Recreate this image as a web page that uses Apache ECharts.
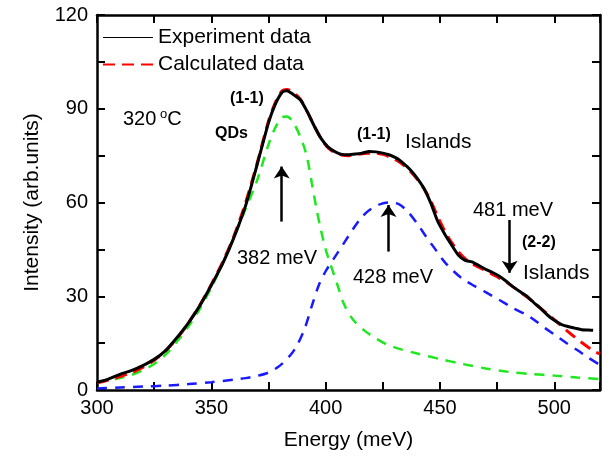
<!DOCTYPE html>
<html><head><meta charset="utf-8">
<script src="https://cdn.jsdelivr.net/npm/echarts@6/dist/echarts.min.js"></script>
<style>html,body{margin:0;padding:0;background:#fff}#c{width:610px;height:458px}</style>
</head><body><div id="c"></div>
<script>
// ---- data ----
const expEnergy = [300,305,310,315,320,325,330,335,340,345,350,355,360,365,370,375,378,381,383,386,389,392,395,398,401,404,407,410,413,416,419,422,425,428,431,434,437,440,443,446,449,452,455,458,461,464,467,470,473,476,479,482,485,488,491,494,497,500,503,506,509,512,515,517];
const expIntensity = [2.5,3.5,5.0,6.2,7.8,9.8,12.6,16.8,21.5,27,33.5,40.5,49,59,72,85.5,91.5,95.3,95.8,94.5,92.8,89,84.5,80.5,77.8,76.3,75.4,75.3,75.5,75.8,76.3,76.2,75.8,75.2,74.2,72.5,70.5,67.8,64.5,59.8,54,50,46.5,43.2,41.5,41,39.8,38.6,37.6,36.4,34.8,33,31.5,30,28,26.1,24,22.3,21,20.3,19.8,19.3,19.2,19.1];

const calcEnergy = [300,305,310,315,320,325,330,335,340,345,350,355,360,365,370,375,378,381,383,386,389,392,395,398,401,404,407,410,413,416,419,422,425,428,431,434,437,440,443,446,449,452,455,458,461,464,467,470,473,476,479,482,485,488,491,494,497,500,503,506,509,512,515,518,520];
const calcIntensity = [2.3,3.2,4.3,5.5,7.2,9.5,12.6,16.5,21.5,27.2,33.8,41,49.5,60,72.5,86,92,95.8,96.2,95.2,93,89,84.5,80.5,77.5,76,75.2,75,75.3,75.6,75.8,75.8,75.4,74.6,73.5,72,70,67.5,64.5,60.5,55.5,51,47.3,44.3,42,40.5,39.3,38.2,37,35.8,34.5,33,31.4,29.8,28,26.2,24.3,22.5,20.6,18.7,16.9,15.2,13.6,12.2,11.6];

const qdEnergy = [300,305,310,315,320,325,330,335,340,345,350,355,360,365,370,375,378,381,383,386,390,392,394,396,398,400,402,405,408,412,417,422,427,433,440,450,460,470,480,490,500,510,520];
const qdIntensity = [2.4,3.0,3.8,4.8,6.3,8.3,11.3,15.5,20.3,26,32.8,40.5,49,58,67,78.5,84,87.3,87.5,85.5,79,74,66,58,51,45,40.5,34,27.5,22.5,19,16.5,14.5,13,11.7,9.9,8.3,6.9,5.8,5.1,4.6,4.0,3.5];

const islEnergy = [300,310,320,330,340,350,360,365,370,375,380,385,388,391,394,397,400,404,408,412,416,420,424,428,432,436,440,444,448,452,456,460,465,470,476,482,488,492,496,500,505,510,515,520];
const islIntensity = [0.5,0.8,1.1,1.4,1.9,2.5,3.3,3.8,4.5,5.6,7.8,11.5,15,20,27,33.5,38,42.5,47,51.5,55.5,58,59.5,60,59.5,57,53.3,49,45,41,38,35.5,33.3,31.3,28.8,26.2,24,22,19.8,17.8,15.2,12.8,10.3,8];

const xTickValues = [300,350,400,450,500];
const yTickValues = [0,30,60,90,120];
const seriesNames = ['Experiment data','Calculated data'];

// peak arrows: energy, tail intensity, tip intensity
const arrowEnergy = [380.8, 427.5, 480.5];
const arrowFrom = [53.9, 44.3, 54.4];
const arrowTo = [71.5, 59.2, 37.5];

const FONT = 'Liberation Sans, Arial, sans-serif';
const pairs = (xs, ys) => xs.map((x, i) => [x, ys[i]]);

const chart = echarts.init(document.getElementById('c'), null, {renderer: 'canvas'});

function axis(extra) {
  return Object.assign({
    type: 'value',
    axisLine: {show: true, onZero: false, lineStyle: {color: '#000', width: 2.5}},
    axisTick: {show: true, inside: true, length: 8, lineStyle: {color: '#000', width: 2}},
    minorTick: {show: true, splitNumber: 2, length: 8, lineStyle: {color: '#000', width: 2}},
    splitLine: {show: false},
    minorSplitLine: {show: false}
  }, extra);
}

const option = {
  animation: false,
  backgroundColor: '#fff',
  grid: {left: 97, right: 10, top: 15, bottom: 68, containLabel: false},
  legend: {
    data: [
      {name: seriesNames[0], lineStyle: {width: 1.2}},
      {name: seriesNames[1]}
    ],
    orient: 'vertical', left: 102, top: 27, padding: 0,
    itemWidth: 50, itemHeight: 14, itemGap: 6,
    itemStyle: {opacity: 0},
    textStyle: {fontSize: 21, color: '#000', fontFamily: FONT}
  },
  xAxis: [
    axis({
      min: 300, max: 520, interval: 50, position: 'bottom',
      name: 'Energy (meV)', nameLocation: 'middle', nameGap: 40,
      nameTextStyle: {fontSize: 21, color: '#000', fontFamily: FONT},
      axisLabel: {show: true, margin: 8, fontSize: 20, color: '#000', fontFamily: FONT,
        formatter: v => xTickValues.includes(v) ? String(v) : ''}
    }),
    axis({min: 300, max: 520, interval: 50, position: 'top', axisLabel: {show: false}})
  ],
  yAxis: [
    axis({
      min: 0, max: 120, interval: 30, position: 'left',
      name: 'Intensity (arb.units)', nameLocation: 'middle', nameGap: 54, nameRotate: 90,
      nameTextStyle: {fontSize: 21, color: '#000', fontFamily: FONT},
      axisLabel: {show: true, margin: 9, fontSize: 20, color: '#000', fontFamily: FONT,
        formatter: v => yTickValues.includes(v) ? String(v) : ''}
    }),
    axis({min: 0, max: 120, interval: 30, position: 'right', axisLabel: {show: false}})
  ],
  series: [
    {
      name: 'QDs', type: 'line', data: pairs(qdEnergy, qdIntensity), symbol: 'none', smooth: 0.3,
      itemStyle: {color: '#1ee81e'},
      lineStyle: {color: '#1ee81e', width: 2.5, type: [10, 8]}, z: 2
    },
    {
      name: 'Islands', type: 'line', data: pairs(islEnergy, islIntensity), symbol: 'none', smooth: 0.3,
      itemStyle: {color: '#1a1aff'},
      lineStyle: {color: '#1a1aff', width: 2.5, type: [10, 8]}, z: 2
    },
    {
      name: seriesNames[1], type: 'line', data: pairs(calcEnergy, calcIntensity), symbol: 'none', smooth: 0.3,
      itemStyle: {color: '#ff0000'},
      lineStyle: {color: '#ff0000', width: 3, type: [12, 7]}, z: 3
    },
    {
      name: seriesNames[0], type: 'line', data: pairs(expEnergy, expIntensity), symbol: 'none', smooth: 0.2,
      itemStyle: {color: '#000'},
      lineStyle: {color: '#000', width: 3}, z: 4,
      markLine: {
        silent: true, symbol: ['none', 'arrow'], symbolSize: 12,
        label: {show: false},
        lineStyle: {color: '#000', width: 2.5, type: 'solid'},
        itemStyle: {color: '#000'},
        data: arrowEnergy.map((e, i) => [{coord: [e, arrowFrom[i]]}, {coord: [e, arrowTo[i]]}])
      }
    }
  ]
};
chart.setOption(option);

function txt(x, y, text, size, bold) {
  return {
    type: 'text', x: x, y: y, z: 10,
    style: {text: text, fontSize: size, fontWeight: bold ? 'bold' : 'normal', fontFamily: FONT,
      fill: '#000', align: 'left', verticalAlign: 'middle'}
  };
}

chart.setOption({
  graphic: [
    {
      type: 'text', x: 123, y: 119, z: 10,
      style: {
        text: '{n|320}{s| o}{n|C}', fill: '#000', align: 'left', verticalAlign: 'middle',
        fontFamily: FONT,
        rich: {
          n: {fontSize: 20, fontFamily: FONT, fill: '#000', lineHeight: 22},
          s: {fontSize: 13, fontFamily: FONT, fill: '#000', verticalAlign: 'top', lineHeight: 13}
        }
      }
    },
    txt(230, 99, '(1-1)', 16, true),
    txt(215, 134, 'QDs', 16, true),
    txt(357, 135, '(1-1)', 16, true),
    txt(405, 142, 'Islands', 21, false),
    txt(237, 258, '382 meV', 20, false),
    txt(353, 277, '428 meV', 20, false),
    txt(473, 210, '481 meV', 20, false),
    txt(522, 243, '(2-2)', 16, true),
    txt(523, 273, 'Islands', 21, false)
  ]
});
</script>
</body></html>
